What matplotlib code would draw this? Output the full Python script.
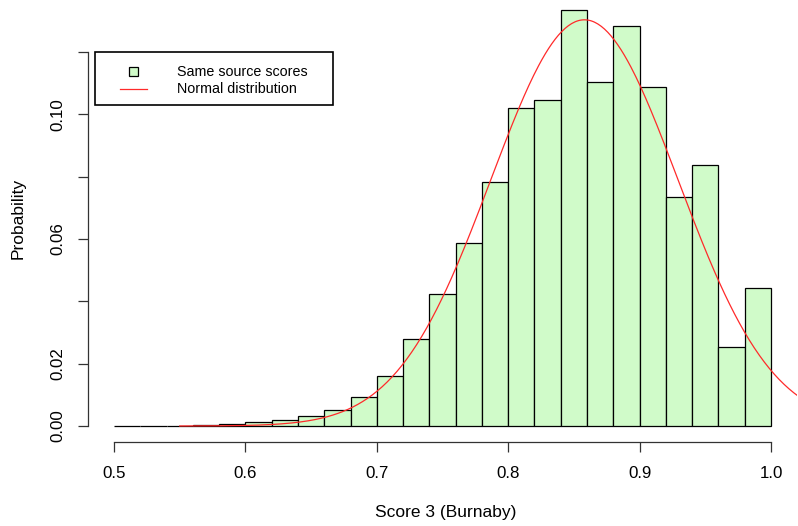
import numpy as np
import matplotlib
matplotlib.use("Agg")
import matplotlib.pyplot as plt
from matplotlib.patches import Rectangle
from matplotlib.lines import Line2D

plt.rcParams["font.family"] = ["Liberation Sans", "DejaVu Sans"]

# histogram data (bin edges and per-bin probability)
bin_edges = np.round(np.arange(0.50, 1.0001, 0.02), 2)
probs = [0.0, 0.0, 0.0001, 0.0002, 0.0006, 0.0012, 0.0018, 0.0031, 0.0051, 0.0094,
         0.0162, 0.0279, 0.0424, 0.0588, 0.0782, 0.1019, 0.1046, 0.1335, 0.1103, 0.1282,
         0.1087, 0.0735, 0.0836, 0.0252, 0.0443]

# fitted normal curve
norm_mean = 0.858
norm_sd = 0.0712
norm_scale = 0.02326
curve_from, curve_to = 0.55, 1.05

x_ticks = [0.5, 0.6, 0.7, 0.8, 0.9, 1.0]
x_labels = ["0.5", "0.6", "0.7", "0.8", "0.9", "1.0"]
y_ticks = [0.00, 0.02, 0.04, 0.06, 0.08, 0.10, 0.12]
y_labels = ["0.00", "0.02", "", "0.06", "", "0.10", ""]

W, H = 798, 526
fig = plt.figure(figsize=(W / 100, H / 100), dpi=100)
ax = fig.add_axes([88 / W, (H - 442) / H, (797 - 88) / W, (442 - 5) / H])

ppu_y = (426 - 52) / 0.12
ax.set_xlim(0.5 - 26 / 1314, 1.0 + 26 / 1314)
ax.set_ylim(-(442 - 426) / ppu_y, (426 - 5) / ppu_y)

ax.bar(bin_edges[:-1], probs, width=0.02, align="edge", color="#d0fbc9",
       edgecolor="black", linewidth=0.9, zorder=2)

xs = np.linspace(curve_from, curve_to, 400)
ys = norm_scale * np.exp(-0.5 * ((xs - norm_mean) / norm_sd) ** 2) / (norm_sd * np.sqrt(2 * np.pi))
ax.plot(xs, ys, color="#ff2a2a", linewidth=0.9, zorder=3)

# R-style axes
for s in ["top", "right"]:
    ax.spines[s].set_visible(False)
ax.spines["left"].set_bounds(0, 0.12)
ax.spines["bottom"].set_bounds(0.5, 1.0)
for s in ["left", "bottom"]:
    ax.spines[s].set_linewidth(0.9)
    ax.spines[s].set_color("#333333")

ax.set_xticks(x_ticks)
ax.set_xticklabels(x_labels)
ax.set_yticks(y_ticks)
ax.set_yticklabels(y_labels, rotation=90, va="center")
ax.tick_params(axis="both", length=7, width=0.9, color="#333333", labelsize=12.2)
ax.tick_params(axis="x", pad=10)
ax.tick_params(axis="y", pad=9)

fig.text(446 / W, 1 - 513 / H, "Score 3 (Burnaby)", ha="center", va="center", fontsize=12.5)
fig.text(18 / W, 1 - 218 / H, "Probability", ha="center", va="center", rotation=90, fontsize=12.5)

# legend box
fig.patches.append(Rectangle((95 / W, 1 - 105 / H), (333 - 95) / W, (105 - 52) / H,
                             transform=fig.transFigure, facecolor="white",
                             edgecolor="black", linewidth=1.2, zorder=5))
fig.patches.append(Rectangle((129 / W, 1 - 76 / H), 9 / W, 9 / H,
                             transform=fig.transFigure, facecolor="#d0fbc9",
                             edgecolor="black", linewidth=0.9, zorder=6))
fig.lines.append(Line2D([120 / W, 147 / W], [1 - 89 / H, 1 - 89 / H],
                        transform=fig.transFigure, color="#ff2a2a", linewidth=0.9, zorder=6))
fig.text(177 / W, 1 - 72 / H, "Same source scores", ha="left", va="center", fontsize=10.3, zorder=7)
fig.text(177 / W, 1 - 89 / H, "Normal distribution", ha="left", va="center", fontsize=10.3, zorder=7)

fig.savefig("out.png", dpi=100)
